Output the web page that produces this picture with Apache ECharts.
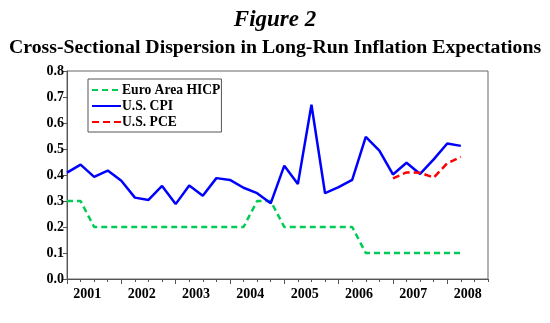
<!DOCTYPE html>
<html>
<head>
<meta charset="utf-8">
<script src="https://cdn.jsdelivr.net/npm/echarts@6/dist/echarts.min.js"></script>
<style>
  html, body { margin: 0; padding: 0; background: #fff; }
  #chart { width: 550px; height: 323px; }
</style>
</head>
<body>
<div id="chart"></div>
<script>
// Quarterly observations, 2001Q1 .. 2008Q2 (index 0 .. 29)
const years = ['2001', '2002', '2003', '2004', '2005', '2006', '2007', '2008'];
const quartersOnAxis = 31; // axis runs to the end of 2008

const hicp = [0.30, 0.30, 0.20, 0.20, 0.20, 0.20, 0.20, 0.20, 0.20, 0.20,
              0.20, 0.20, 0.20, 0.20, 0.30, 0.30, 0.20, 0.20, 0.20, 0.20,
              0.20, 0.20, 0.10, 0.10, 0.10, 0.10, 0.10, 0.10, 0.10, 0.10];

const cpi = [0.409, 0.440, 0.393, 0.417, 0.378, 0.313, 0.304, 0.358, 0.288, 0.360,
             0.320, 0.388, 0.381, 0.351, 0.330, 0.291, 0.436, 0.365, 0.670, 0.330,
             0.353, 0.381, 0.547, 0.494, 0.402, 0.447, 0.404, 0.460, 0.521, 0.512];

// PCE survey begins in 2007Q1
const pceStart = 24;
const pce = [0.387, 0.410, 0.409, 0.390, 0.445, 0.470];

const toPairs = (arr, start) => arr.map((v, i) => [start + i, v]);

const serif = "'Liberation Serif', 'Times New Roman', serif";
const yearLabelPos = years.map((_, k) => 1.5 + 4 * k);
const quarterTicks = Array.from({ length: quartersOnAxis + 1 }, (_, i) => i);
const yearTicks = quarterTicks.filter(i => i % 4 === 0);

const chart = echarts.init(document.getElementById('chart'), null, { renderer: 'canvas' });

chart.setOption({
  animation: false,
  backgroundColor: '#fff',
  title: [
    {
      text: 'Figure 2',
      left: 'center', top: 4,
      textStyle: { fontFamily: serif, fontSize: 23, fontWeight: 'bold', fontStyle: 'italic', color: '#000' }
    },
    {
      text: 'Cross-Sectional Dispersion in Long-Run Inflation Expectations',
      left: 'center', top: 33,
      textStyle: { fontFamily: serif, fontSize: 19.8, fontWeight: 'bold', color: '#000' }
    }
  ],
  legend: {
    orient: 'vertical',
    left: 88, top: 79,
    padding: [4, 1, 3, 3],
    itemGap: 2,
    itemWidth: 29,
    itemHeight: 14,
    borderColor: '#555',
    borderWidth: 1,
    backgroundColor: '#fff',
    // line samples only, no marker dot
    itemStyle: { opacity: 0 },
    textStyle: { fontFamily: serif, fontSize: 13.6, fontWeight: 'bold', color: '#000', padding: [0, 0, 0, -4] },
    data: ['Euro Area HICP', 'U.S. CPI', 'U.S. PCE']
  },
  grid: {
    left: 67, right: 62, top: 71, bottom: 44,
    show: true,
    borderColor: '#666',
    borderWidth: 1,
    backgroundColor: 'transparent'
  },
  xAxis: [
    {
      type: 'value', min: 0, max: quartersOnAxis,
      axisLine: { show: true, lineStyle: { color: '#555', width: 1 } },
      axisTick: { show: true, inside: false, length: 3, customValues: quarterTicks, lineStyle: { color: '#555' } },
      axisLabel: {
        show: true, margin: 8,
        customValues: yearLabelPos,
        formatter: v => years[Math.round((v - 1.5) / 4)],
        fontFamily: serif, fontSize: 14, fontWeight: 'bold', color: '#000'
      },
      splitLine: { show: false }
    },
    {
      type: 'value', min: 0, max: quartersOnAxis, position: 'bottom',
      axisLine: { show: false },
      axisTick: { show: true, inside: false, length: 5, customValues: yearTicks, lineStyle: { color: '#555' } },
      axisLabel: { show: false },
      splitLine: { show: false }
    }
  ],
  yAxis: {
    type: 'value', min: 0, max: 0.8, interval: 0.1,
    axisLine: { show: true, lineStyle: { color: '#555', width: 1 } },
    axisTick: { show: true, inside: false, length: 4, lineStyle: { color: '#555' } },
    axisLabel: {
      margin: 3,
      formatter: v => v.toFixed(1),
      fontFamily: serif, fontSize: 14, fontWeight: 'bold', color: '#000'
    },
    splitLine: { show: false }
  },
  series: [
    {
      name: 'Euro Area HICP', type: 'line', symbol: 'none',
      data: toPairs(hicp, 0),
      itemStyle: { color: '#00cc55' },
      lineStyle: { color: '#00cc55', width: 2.5, type: [6, 4] }
    },
    {
      name: 'U.S. CPI', type: 'line', symbol: 'none',
      data: toPairs(cpi, 0),
      itemStyle: { color: '#0000ff' },
      lineStyle: { color: '#0000ff', width: 2.5, type: 'solid' }
    },
    {
      name: 'U.S. PCE', type: 'line', symbol: 'none',
      data: toPairs(pce, pceStart),
      itemStyle: { color: '#ff0000' },
      lineStyle: { color: '#ff0000', width: 2.5, type: [7, 4] }
    }
  ]
});
</script>
</body>
</html>
